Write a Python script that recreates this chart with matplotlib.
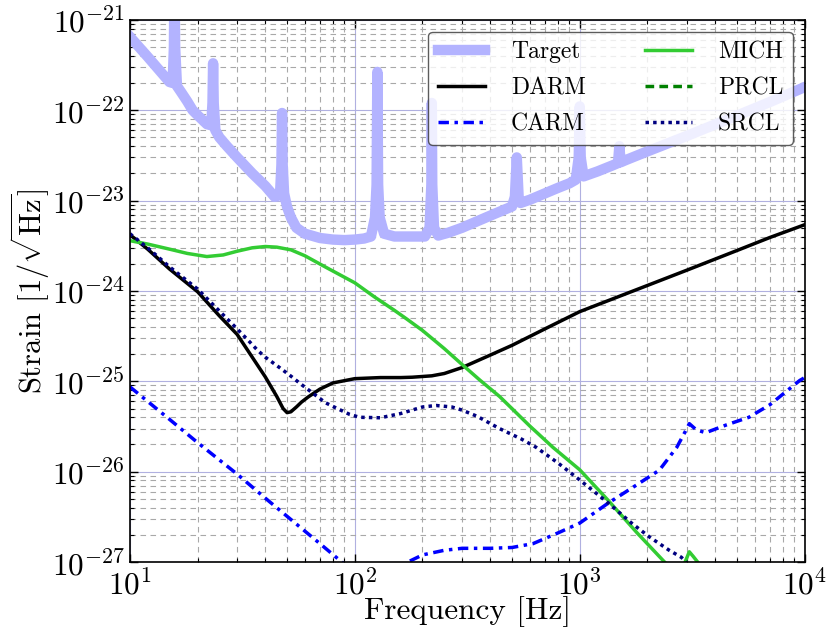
import matplotlib
matplotlib.use("Agg")
import matplotlib.pyplot as plt

plt.rcParams['font.family'] = 'serif'
plt.rcParams['font.serif'] = ['cmr10']
plt.rcParams['mathtext.fontset'] = 'cm'
plt.rcParams['axes.formatter.use_mathtext'] = True
plt.rcParams['axes.unicode_minus'] = False

# values
f_target = [10, 12, 14, 15, 15.5, 15.7, 15.8, 15.9, 16.2, 17, 18, 19, 20, 22, 23.0, 23.3, 23.45,
            23.6, 24, 25, 27, 30, 35, 40, 44, 46.5, 47.2, 47.5, 47.8, 48.5, 50, 52, 55, 60, 70,
            80, 90, 100, 110, 118, 123, 125, 126, 127, 129, 135, 150, 180, 205, 215, 219, 220,
            221, 225, 235, 260, 300, 350, 400, 450, 500, 515, 525, 535, 545, 600, 700, 800, 900,
            960, 990, 1000, 1010, 1040, 1200, 1400, 1480, 1500, 1520, 1600, 2000, 3000, 5000,
            7000, 10000]
target = [6.5e-22, 3.9e-22, 2.5e-22, 2.05e-22, 2.0e-22, 5e-22, 3e-21, 5e-22, 1.85e-22, 1.55e-22,
          1.25e-22, 1.0e-22, 8.8e-23, 7.0e-23, 6.8e-23, 1.2e-22, 3.3e-22,
          1.2e-22, 6.0e-23, 5.0e-23, 4.0e-23, 3.0e-23, 2.0e-23, 1.45e-23, 1.1e-23, 1.15e-23,
          2.5e-23, 9.3e-23, 2.5e-23, 1.2e-23, 8.5e-24, 6.5e-24, 5.0e-24, 4.3e-24, 3.85e-24,
          3.7e-24, 3.65e-24, 3.7e-24, 3.8e-24, 4.0e-24, 6.5e-24, 1.5e-23, 2.65e-22, 1.5e-23,
          6.5e-24, 4.3e-24, 4.0e-24, 4.0e-24, 4.0e-24, 5e-24, 1.5e-23, 1.2e-22,
          1.5e-23, 5e-24, 4.1e-24, 4.4e-24, 5.0e-24, 5.9e-24, 6.8e-24, 7.7e-24, 8.6e-24, 1.1e-23,
          3.0e-23, 1.1e-23, 9.4e-24, 1.02e-23, 1.2e-23, 1.38e-23, 1.55e-23,
          1.7e-23, 3e-23, 1.1e-22, 3e-23, 1.85e-23, 2.1e-23, 2.45e-23, 2.6e-23, 4e-23, 2.65e-23,
          2.8e-23, 3.5e-23, 5.2e-23, 8.7e-23, 1.23e-22, 1.8e-22]

f_darm = [10, 12, 15, 20, 25, 30, 35, 40, 45, 48, 50, 52, 55, 58, 62, 70, 80, 100, 130, 160,
          180, 220, 250, 300, 400, 500, 700, 1000, 2000, 3000, 5000, 7000, 10000]
darm = [4.2e-24, 2.9e-24, 1.75e-24, 9.8e-25, 5.3e-25, 3.3e-25, 1.85e-25, 1.12e-25, 6.8e-26,
        5.0e-26, 4.5e-26, 4.6e-26, 5.2e-26, 5.9e-26, 6.7e-26, 8.2e-26, 9.6e-26, 1.07e-25,
        1.1e-25, 1.1e-25, 1.11e-25, 1.15e-25, 1.22e-25, 1.42e-25, 1.95e-25, 2.5e-25, 3.8e-25,
        5.9e-25, 1.15e-24, 1.7e-24, 2.8e-24, 3.9e-24, 5.4e-24]

f_carm = [10, 15, 20, 30, 40, 52.5, 70, 87.6, 100, 130, 160, 172, 200, 250, 300, 400, 500, 620,
          800, 1000, 1340, 1800, 2260, 2700, 2950, 3070, 3300, 3630, 4500, 5650, 7000, 9500, 10000]
carm = [8.7e-26, 3.8e-26, 2.1e-26, 9.4e-27, 5.1e-27, 2.9e-27, 1.6e-27, 1.0e-27, 8e-28, 7e-28,
        9e-28, 1.0e-27, 1.2e-27, 1.35e-27, 1.42e-27, 1.42e-27, 1.45e-27, 1.6e-27,
        2.1e-27, 2.7e-27, 4.5e-27, 7.2e-27, 1.04e-26, 1.86e-26, 2.8e-26, 3.4e-26, 2.9e-26,
        2.7e-26, 3.3e-26, 4.0e-26, 5.5e-26, 1.02e-25, 1.1e-25]

f_mich = [10, 12, 15, 18, 22, 26, 30, 35, 40, 45, 52, 60, 74, 100, 123, 150, 170, 200, 250, 303,
          360, 440, 600, 760, 1000, 1340, 1800, 2340, 2600, 2800, 2940, 3070, 3200, 3400, 3800,
          4500]
mich = [3.6e-24, 3.3e-24, 2.9e-24, 2.6e-24, 2.4e-24, 2.5e-24, 2.75e-24, 3.0e-24, 3.1e-24,
        3.05e-24, 2.85e-24, 2.45e-24, 1.84e-24, 1.23e-24, 8.5e-25, 6.1e-25, 4.9e-25, 3.65e-25,
        2.3e-25, 1.5e-25, 1.03e-25, 6.8e-26, 3.2e-26, 1.86e-26, 1.05e-26, 4.8e-27, 2.1e-27,
        1.05e-27, 8e-28, 6.5e-28, 1.0e-27, 1.3e-27, 1.15e-27, 9.5e-28, 6e-28, 4e-28]

f_prcl = [10, 100, 1000, 10000]
prcl = [5e-28, 2e-29, 1e-30, 1e-31]

f_srcl = [10, 12, 15, 20, 25, 30, 34, 37, 40, 47, 52.5, 57, 66, 74, 85, 95, 105, 130, 160, 200,
          230, 270, 300, 350, 440, 550, 640, 800, 1000, 1340, 1700, 2040, 2500, 2830, 3100, 3500]
srcl = [4.3e-24, 3.0e-24, 1.85e-24, 1.05e-24, 6.0e-25, 3.8e-25, 2.75e-25, 2.2e-25, 1.85e-25,
        1.38e-25, 1.12e-25, 9.5e-26, 7.2e-26, 5.8e-26, 4.9e-26, 4.3e-26, 4.0e-26, 3.95e-26,
        4.4e-26, 5.2e-26, 5.4e-26, 5.2e-26, 4.8e-26, 4.1e-26, 3.0e-26, 2.3e-26, 1.86e-26,
        1.25e-26, 8.1e-27, 4.5e-27, 2.7e-27, 1.9e-27, 1.35e-27, 1.13e-27, 9e-28, 6e-28]

fig = plt.figure(figsize=(8.27, 6.38), dpi=100)
ax = fig.add_axes([0.157, 0.119, 0.816, 0.85])

ax.plot(f_target, target, color='#b3b3ff', lw=7.5, label='Target')
ax.plot(f_darm, darm, color='black', lw=2.5, label='DARM')
ax.plot(f_carm, carm, color='#0000ff', lw=2.5, ls=(0, (3, 1.6, 1, 1.6)), label='CARM')
ax.plot(f_mich, mich, color='#33cc33', lw=2.5, label='MICH')
ax.plot(f_prcl, prcl, color='#008000', lw=2.5, ls=(0, (2.5, 1.5)), label='PRCL')
ax.plot(f_srcl, srcl, color='#000080', lw=2.5, ls=(0, (1, 1.2)), label='SRCL')

ax.set_xscale('log')
ax.set_yscale('log')
ax.set_xlim(10, 1e4)
ax.set_ylim(1e-27, 1e-21)

ax.grid(True, which='major', color='#b0b0e0', ls='-', lw=0.8)
ax.grid(True, which='minor', color='#a8a8a8', ls=(0, (5, 4)), lw=0.8)
ax.set_axisbelow(True)

ax.tick_params(which='both', direction='in', top=True, right=True, labelsize=22.5)
ax.tick_params(which='major', length=6, width=1)
ax.tick_params(which='minor', length=3, width=0.8)
ax.tick_params(axis='x', pad=5)
for s in ax.spines.values():
    s.set_linewidth(1.2)

ax.set_xlabel('Frequency [Hz]', fontsize=22.5, labelpad=-3)
ax.set_ylabel(r'Strain $[1/\sqrt{\rm Hz}]$', fontsize=22, labelpad=0)

leg = ax.legend(loc='upper right', ncol=2, fontsize=17, handlelength=2.0, handletextpad=1.1,
                columnspacing=2.5, labelspacing=0.6, borderaxespad=0.5, fancybox=True,
                framealpha=0.8, edgecolor='#333333')
leg.get_frame().set_linewidth(1.0)

fig.savefig('out.png', dpi=100)
